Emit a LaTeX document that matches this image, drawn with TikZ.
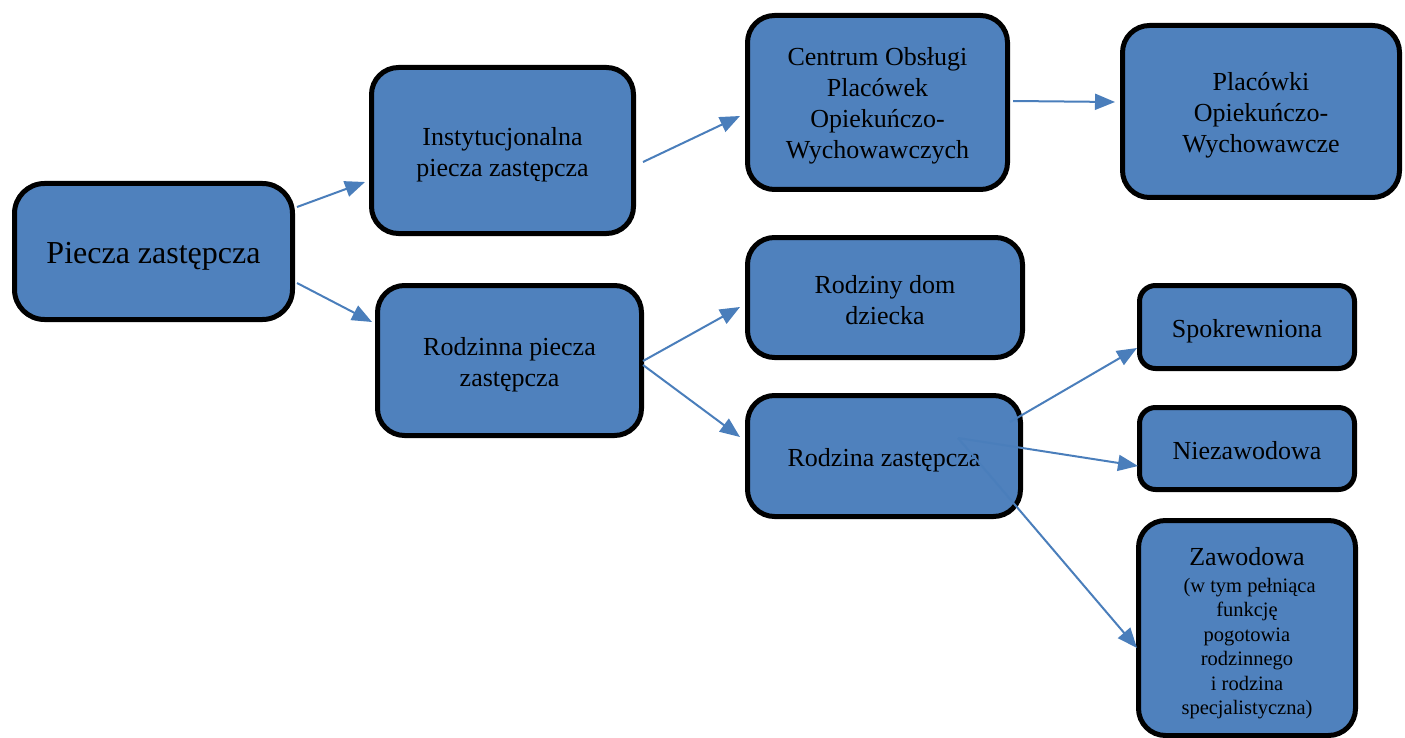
\documentclass[tikz,border=0pt]{standalone}
\usepackage{fontspec}
\setmainfont{Liberation Serif}
\usetikzlibrary{arrows.meta,calc}
\definecolor{boxfill}{HTML}{4F81BD}
\definecolor{arrowc}{HTML}{4A7EBB}
\begin{document}
\begin{tikzpicture}[x=1pt,y=-1pt,
  box/.style={draw=black,line width=5pt,fill=boxfill,rounded corners=27pt,inner sep=0pt},
  smallbox/.style={box,rounded corners=16pt},
  lbl/.style={align=center,inner sep=0pt,text=black,font=\fontsize{26}{31}\selectfont},
  arr/.style={draw=arrowc,line width=2pt,-{Triangle[length=20pt,width=16pt]}}]
\useasboundingbox (0,0) rectangle (1405,738);

\node[box,minimum width=278pt,minimum height=136pt,rounded corners=30pt] (A) at (153.5,251.5) {};
\node[box,minimum width=262pt,minimum height=166pt] (B) at (502.5,150.5) {};
\node[box,minimum width=264pt,minimum height=150pt] (C) at (509.5,360.5) {};
\node[box,minimum width=260pt,minimum height=174pt] (D) at (877.5,102.5) {};
\node[box,minimum width=277pt,minimum height=172pt] (E) at (1261,111.5) {};
\node[box,minimum width=275pt,minimum height=120pt] (F) at (885,297.5) {};
\node[box,minimum width=273pt,minimum height=121pt] (G) at (884,456) {};
\node[smallbox,minimum width=215pt,minimum height=83pt] (H) at (1247,327) {};
\node[smallbox,minimum width=215pt,minimum height=82pt] (I) at (1247,448.5) {};
\node[box,minimum width=217pt,minimum height=215pt] (J) at (1247,628) {};

\node[lbl,font=\fontsize{32}{38}\selectfont] (At) at ([yshift=-5pt]A.center) {Piecza zastępcza};
\node[lbl] (Bt) at ([yshift=-4.5pt]B.center) {Instytucjonalna\\piecza zastępcza};
\node[lbl] (Ct) at ([yshift=-4pt]C.center) {Rodzinna piecza\\zastępcza};
\node[lbl] (Dt) at ([yshift=-3.5pt]D.center) {Centrum Obsługi\\Placówek\\Opiekuńczo-\\Wychowawczych};
\node[lbl] (Et) at ([yshift=-4pt]E.center) {Placówki\\Opiekuńczo-\\Wychowawcze};
\node[lbl] (Ft) at ([yshift=-3pt]F.center) {Rodziny dom\\dziecka};
\node[lbl] (Gt) at ([yshift=-4pt]G.center) {Rodzina zastępcza};
\node[lbl] (Ht) at ([yshift=-4pt]H.center) {Spokrewniona};
\node[lbl] (It) at ([yshift=-2.5pt]I.center) {Niezawodowa};
\node[lbl,font=\fontsize{26}{29}\selectfont] (Jt) at ([yshift=-5pt]J.center) {Zawodowa\\[-2pt]
  {\fontsize{20.5}{24.6}\selectfont \ (w tym pełniąca}\\[-4.5pt]
  {\fontsize{20.5}{24.6}\selectfont funkcję}\\[-4.5pt]
  {\fontsize{20.5}{24.6}\selectfont pogotowia}\\[-4.5pt]
  {\fontsize{20.5}{24.6}\selectfont rodzinnego}\\[-4.5pt]
  {\fontsize{20.5}{24.6}\selectfont i rodzina}\\[-4.5pt]
  {\fontsize{20.5}{24.6}\selectfont specjalistyczna)}};

\draw[arr] ($(A.center)+(143.5,-44.5)$) -- ($(B.center)+(-137.5,31.5)$);
\draw[arr] ($(A.center)+(143.5,31.5)$) -- ($(C.center)+(-137.5,-38.5)$);
\draw[arr] ($(B.center)+(140.5,11.5)$) -- ($(D.center)+(-137.5,13.5)$);
\draw[arr] ($(D.center)+(135.5,-1.5)$) -- ($(E.center)+(-146,-9.5)$);
\draw[arr] ($(C.center)+(133.5,0.5)$) -- ($(F.center)+(-145,9.5)$);
\draw[arr] ($(C.center)+(133.5,4.5)$) -- ($(G.center)+(-144,-19)$);
\draw[arr] ($(G.center)+(126,-34)$) -- ($(H.center)+(-110,21)$);
\draw[arr] ($(G.center)+(74,-18)$) -- ($(I.center)+(-109,17.5)$);
\draw[arr] ($(G.center)+(74,-18)$) -- ($(J.center)+(-110,20)$);
\end{tikzpicture}
\end{document}
